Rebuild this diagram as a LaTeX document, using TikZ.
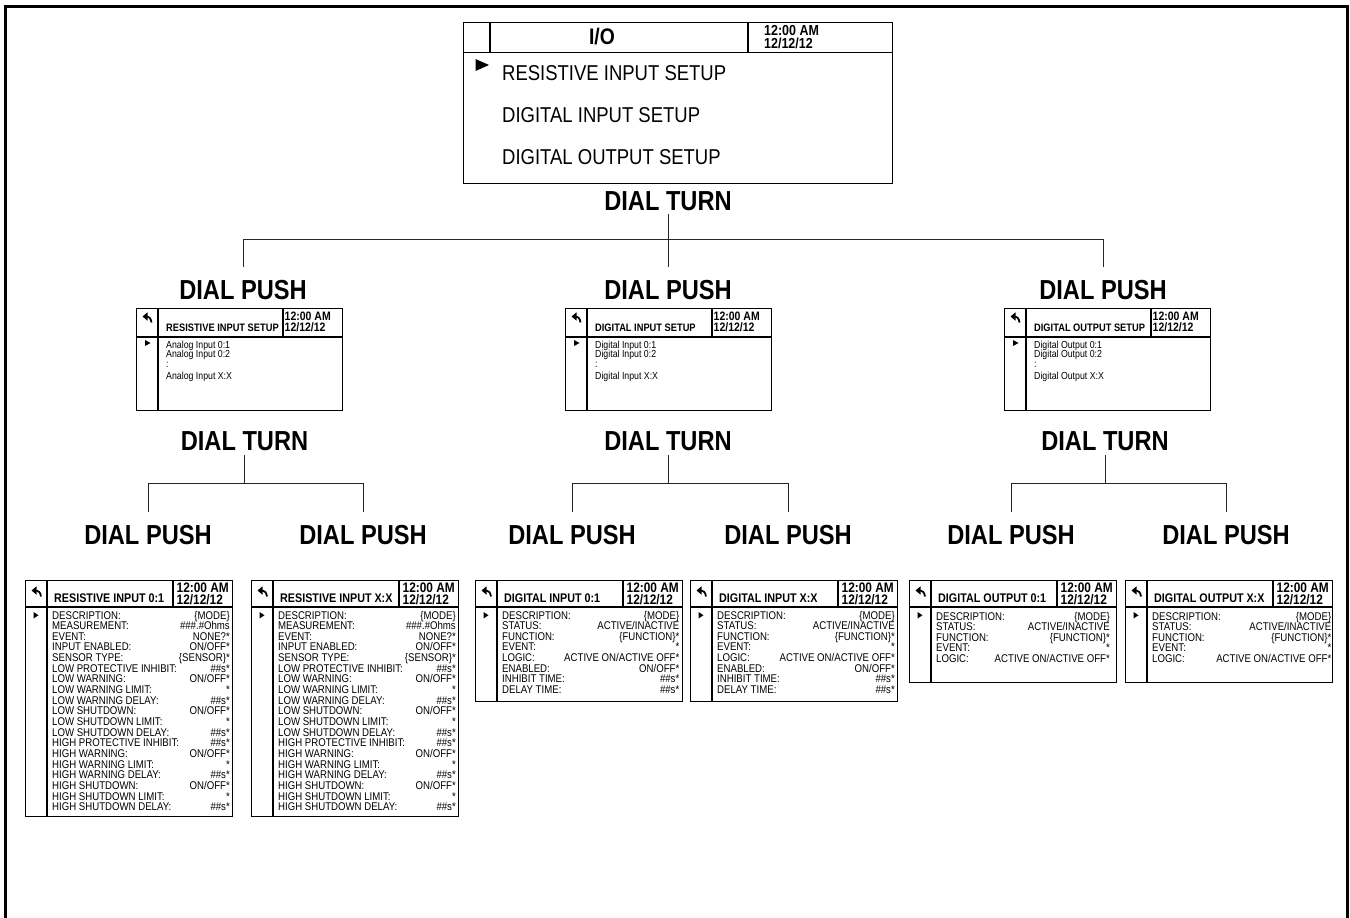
\documentclass[tikz,border=0pt]{standalone}
\usepackage{fontspec}
\setmainfont{Liberation Sans}[FakeStretch=0.86]
\usetikzlibrary{arrows.meta}

\tikzset{
 frameline/.style={line width=3pt},
 screen/.style={draw, line width=1.3pt, inner sep=0pt},
 rule/.style={line width=1.1pt},
 conn/.style={line width=1pt, draw=black!85},
 lab/.style={font=\fontsize{27.5}{30}\selectfont\bfseries, inner sep=0pt, text height=19.7pt, text depth=0pt},
 rowtxt/.style={font=\fontsize{11.2}{12}\selectfont, inner sep=0pt},
 btitle/.style={font=\fontsize{12.5}{14}\selectfont\bfseries, inner sep=0pt},
 btime/.style={font=\fontsize{13.8}{15}\selectfont\bfseries, inner sep=0pt, text height=9.9pt, text depth=0pt},
 mtitle/.style={font=\fontsize{10.8}{12}\selectfont\bfseries, inner sep=0pt},
 mtime/.style={font=\fontsize{12.2}{13}\selectfont\bfseries, inner sep=0pt, text height=8.7pt, text depth=0pt},
 mbody/.style={font=\fontsize{10.2}{11}\selectfont, inner sep=0pt},
 menu/.style={font=\fontsize{21.5}{24}\selectfont, inner sep=0pt},
 toptitle/.style={font=\fontsize{22.5}{24}\selectfont\bfseries, inner sep=0pt},
 toptime/.style={font=\fontsize{14.5}{16}\selectfont\bfseries, inner sep=0pt, text height=10.4pt, text depth=0pt},
 backarrow/.style={line width=1.8pt, -{Triangle[length=5pt,width=8pt]}},
}

\newcommand{\BottomScreen}[3]{%
 \node[screen, minimum width=207pt, minimum height=#2pt, anchor=north west] (#1) at (0,0) {};
 \draw[rule] (0,27) -- (207,27);
 \draw[rule] (22,0) -- (22,#2);
 \draw[rule] (148,0) -- (148,27);
 \draw[backarrow] (16,16.5) .. controls (15.5,12) and (13,10.5) .. (6.5,10.5);
 \fill (8.5,32) -- (8.5,38.5) -- (13.5,35.25) -- cycle;
 \node[btitle, anchor=base west] (#1t) at (29,22) {#3};
 \node[btime, anchor=base west] (#1c) at (151.5,12.8) {12:00 AM};
 \node[btime, anchor=base west] (#1d) at (151.5,24) {12/12/12};
}
\newcommand{\Row}[3]{%
 \node[rowtxt, anchor=base west] (\curbox-l#1) at (27,{\rowstart+(#1-1)*10.65}) {#2};
 \node[rowtxt, anchor=base east] (\curbox-v#1) at (\vx,{\rowstart+(#1-1)*10.65}) {#3};
}
\newcommand{\MidScreen}[3]{%
 \node[screen, minimum width=206pt, minimum height=102pt, anchor=north west] (#1) at (0,0) {};
 \draw[rule] (0,29) -- (206,29);
 \draw[rule] (22,0) -- (22,102);
 \draw[rule] (147,0) -- (147,29);
 \draw[backarrow] (15.5,14.5) .. controls (15,10) and (12.5,8.5) .. (6.5,8.5);
 \fill (9,32) -- (9,38) -- (14.5,35) -- cycle;
 \node[mtitle, anchor=base west] (#1t) at (30,23) {#2};
 \node[mtime, anchor=base west] (#1c) at (148.5,12.8) {12:00 AM};
 \node[mtime, anchor=base west] (#1d) at (148.5,23.5) {12/12/12};
 \node[mbody, anchor=base west] (#1a) at (30,40) {#3 0:1};
 \node[mbody, anchor=base west] (#1b) at (30,49.5) {#3 0:2};
 \node[mbody, anchor=base west] (#1e) at (30,59) {:};
 \node[mbody, anchor=base west] (#1f) at (30,71) {#3 X:X};
}

\begin{document}
\begin{tikzpicture}[x=1pt,y=-1pt]
\useasboundingbox (0,0) rectangle (1350,918);
\clip (0,0) rectangle (1350,918);
\draw[frameline] (5.5,930) -- (5.5,6.5) -- (1347,6.5) -- (1347,930);

% ---------- top screen ----------
\node[screen, minimum width=429pt, minimum height=161pt, anchor=north west] (top) at (463,21.5) {};
\draw[rule] (463,52.5) -- (892,52.5);
\draw[rule] (490,21.5) -- (490,52.5);
\draw[rule] (748,21.5) -- (748,52.5);
\node[toptitle, text height=16pt, text depth=0pt] (topt) at (602,37) {I/O};
\node[toptime, anchor=base west] (topc) at (764,35.5) {12:00 AM};
\node[toptime, anchor=base west] (topd) at (764,48.3) {12/12/12};
\fill (475.5,59) -- (475.5,71) -- (489,65) -- cycle;
\node[menu, anchor=base west] (m1) at (502,80.7) {RESISTIVE INPUT SETUP};
\node[menu, anchor=base west] (m2) at (502,122.7) {DIGITAL INPUT SETUP};
\node[menu, anchor=base west] (m3) at (502,164.4) {DIGITAL OUTPUT SETUP};

% ---------- labels ----------
\node[lab] (dt1) at (668,201) {DIAL TURN};
\node[lab] (dp1a) at (243,290) {DIAL PUSH};
\node[lab] (dp1b) at (668,290) {DIAL PUSH};
\node[lab] (dp1c) at (1103,290) {DIAL PUSH};
\node[lab] (dt2a) at (244.5,441) {DIAL TURN};
\node[lab] (dt2b) at (668,441) {DIAL TURN};
\node[lab] (dt2c) at (1105,441) {DIAL TURN};
\node[lab] (dp2a) at (148,535) {DIAL PUSH};
\node[lab] (dp2b) at (363,535) {DIAL PUSH};
\node[lab] (dp2c) at (572,535) {DIAL PUSH};
\node[lab] (dp2d) at (788,535) {DIAL PUSH};
\node[lab] (dp2e) at (1011,535) {DIAL PUSH};
\node[lab] (dp2f) at (1226,535) {DIAL PUSH};

% ---------- connectors ----------
\coordinate (j1) at (668,239);
\draw[conn, shorten <=3pt] (dt1.south) -- (j1);
\draw[conn, shorten >=13pt] (j1) -- (j1 -| dp1a.north) -- (dp1a.north);
\draw[conn, shorten >=13pt] (j1) -- (dp1b.north);
\draw[conn, shorten >=13pt] (j1) -- (j1 -| dp1c.north) -- (dp1c.north);

\coordinate (j2a) at (244.5,483.5);
\coordinate (j2b) at (668,483.5);
\coordinate (j2c) at (1105,483.5);
\draw[conn, shorten <=4pt] (dt2a.south) -- (j2a);
\draw[conn, shorten <=4pt] (dt2b.south) -- (j2b);
\draw[conn, shorten <=4pt] (dt2c.south) -- (j2c);
\draw[conn, shorten >=13pt] (j2a) -- (j2a -| dp2a.north) -- (dp2a.north);
\draw[conn, shorten >=13pt] (j2a) -- (j2a -| dp2b.north) -- (dp2b.north);
\draw[conn, shorten >=13pt] (j2b) -- (j2b -| dp2c.north) -- (dp2c.north);
\draw[conn, shorten >=13pt] (j2b) -- (j2b -| dp2d.north) -- (dp2d.north);
\draw[conn, shorten >=13pt] (j2c) -- (j2c -| dp2e.north) -- (dp2e.north);
\draw[conn, shorten >=13pt] (j2c) -- (j2c -| dp2f.north) -- (dp2f.north);

% ---------- second level screens ----------
\begin{scope}[shift={(136,308)}]
 \MidScreen{s1}{RESISTIVE INPUT SETUP}{Analog Input}
\end{scope}
\begin{scope}[shift={(565,308)}]
 \MidScreen{s2}{DIGITAL INPUT SETUP}{Digital Input}
\end{scope}
\begin{scope}[shift={(1004,308)}]
 \MidScreen{s3}{DIGITAL OUTPUT SETUP}{Digital Output}
\end{scope}

% ---------- bottom screens ----------
\def\rowstart{39}
\begin{scope}[shift={(25,580)}]
 \BottomScreen{b1}{236}{RESISTIVE INPUT 0:1}
 \def\curbox{b1}\def\vx{205}
 \Row{1}{DESCRIPTION:}{\{MODE\}}
 \Row{2}{MEASUREMENT:}{\#\#\#.\#Ohms}
 \Row{3}{EVENT:}{NONE?*}
 \Row{4}{INPUT ENABLED:}{ON/OFF*}
 \Row{5}{SENSOR TYPE:}{\{SENSOR\}*}
 \Row{6}{LOW PROTECTIVE INHIBIT:}{\#\#s*}
 \Row{7}{LOW WARNING:}{ON/OFF*}
 \Row{8}{LOW WARNING LIMIT:}{*}
 \Row{9}{LOW WARNING DELAY:}{\#\#s*}
 \Row{10}{LOW SHUTDOWN:}{ON/OFF*}
 \Row{11}{LOW SHUTDOWN LIMIT:}{*}
 \Row{12}{LOW SHUTDOWN DELAY:}{\#\#s*}
 \Row{13}{HIGH PROTECTIVE INHIBIT:}{\#\#s*}
 \Row{14}{HIGH WARNING:}{ON/OFF*}
 \Row{15}{HIGH WARNING LIMIT:}{*}
 \Row{16}{HIGH WARNING DELAY:}{\#\#s*}
 \Row{17}{HIGH SHUTDOWN:}{ON/OFF*}
 \Row{18}{HIGH SHUTDOWN LIMIT:}{*}
 \Row{19}{HIGH SHUTDOWN DELAY:}{\#\#s*}
\end{scope}
\begin{scope}[shift={(251,580)}]
 \BottomScreen{b2}{236}{RESISTIVE INPUT X:X}
 \def\curbox{b2}\def\vx{205}
 \Row{1}{DESCRIPTION:}{\{MODE\}}
 \Row{2}{MEASUREMENT:}{\#\#\#.\#Ohms}
 \Row{3}{EVENT:}{NONE?*}
 \Row{4}{INPUT ENABLED:}{ON/OFF*}
 \Row{5}{SENSOR TYPE:}{\{SENSOR\}*}
 \Row{6}{LOW PROTECTIVE INHIBIT:}{\#\#s*}
 \Row{7}{LOW WARNING:}{ON/OFF*}
 \Row{8}{LOW WARNING LIMIT:}{*}
 \Row{9}{LOW WARNING DELAY:}{\#\#s*}
 \Row{10}{LOW SHUTDOWN:}{ON/OFF*}
 \Row{11}{LOW SHUTDOWN LIMIT:}{*}
 \Row{12}{LOW SHUTDOWN DELAY:}{\#\#s*}
 \Row{13}{HIGH PROTECTIVE INHIBIT:}{\#\#s*}
 \Row{14}{HIGH WARNING:}{ON/OFF*}
 \Row{15}{HIGH WARNING LIMIT:}{*}
 \Row{16}{HIGH WARNING DELAY:}{\#\#s*}
 \Row{17}{HIGH SHUTDOWN:}{ON/OFF*}
 \Row{18}{HIGH SHUTDOWN LIMIT:}{*}
 \Row{19}{HIGH SHUTDOWN DELAY:}{\#\#s*}
\end{scope}
\begin{scope}[shift={(475,580)}]
 \BottomScreen{b3}{121}{DIGITAL INPUT 0:1}
 \def\curbox{b3}\def\vx{204.5}
 \Row{1}{DESCRIPTION:}{\{MODE\}}
 \Row{2}{STATUS:}{ACTIVE/INACTIVE}
 \Row{3}{FUNCTION:}{\{FUNCTION\}*}
 \Row{4}{EVENT:}{*}
 \Row{5}{LOGIC:}{ACTIVE ON/ACTIVE OFF*}
 \Row{6}{ENABLED:}{ON/OFF*}
 \Row{7}{INHIBIT TIME:}{\#\#s*}
 \Row{8}{DELAY TIME:}{\#\#s*}
\end{scope}
\begin{scope}[shift={(690,580)}]
 \BottomScreen{b4}{121}{DIGITAL INPUT X:X}
 \def\curbox{b4}\def\vx{205}
 \Row{1}{DESCRIPTION:}{\{MODE\}}
 \Row{2}{STATUS:}{ACTIVE/INACTIVE}
 \Row{3}{FUNCTION:}{\{FUNCTION\}*}
 \Row{4}{EVENT:}{*}
 \Row{5}{LOGIC:}{ACTIVE ON/ACTIVE OFF*}
 \Row{6}{ENABLED:}{ON/OFF*}
 \Row{7}{INHIBIT TIME:}{\#\#s*}
 \Row{8}{DELAY TIME:}{\#\#s*}
\end{scope}
\def\rowstart{40}
\begin{scope}[shift={(909,580)}]
 \BottomScreen{b5}{102}{DIGITAL OUTPUT 0:1}
 \def\curbox{b5}\def\vx{201}
 \Row{1}{DESCRIPTION:}{\{MODE\}}
 \Row{2}{STATUS:}{ACTIVE/INACTIVE}
 \Row{3}{FUNCTION:}{\{FUNCTION\}*}
 \Row{4}{EVENT:}{*}
 \Row{5}{LOGIC:}{ACTIVE ON/ACTIVE OFF*}
\end{scope}
\begin{scope}[shift={(1125,580)}]
 \BottomScreen{b6}{102}{DIGITAL OUTPUT X:X}
 \def\curbox{b6}\def\vx{206.5}
 \Row{1}{DESCRIPTION:}{\{MODE\}}
 \Row{2}{STATUS:}{ACTIVE/INACTIVE}
 \Row{3}{FUNCTION:}{\{FUNCTION\}*}
 \Row{4}{EVENT:}{*}
 \Row{5}{LOGIC:}{ACTIVE ON/ACTIVE OFF*}
\end{scope}
\end{tikzpicture}
\end{document}
